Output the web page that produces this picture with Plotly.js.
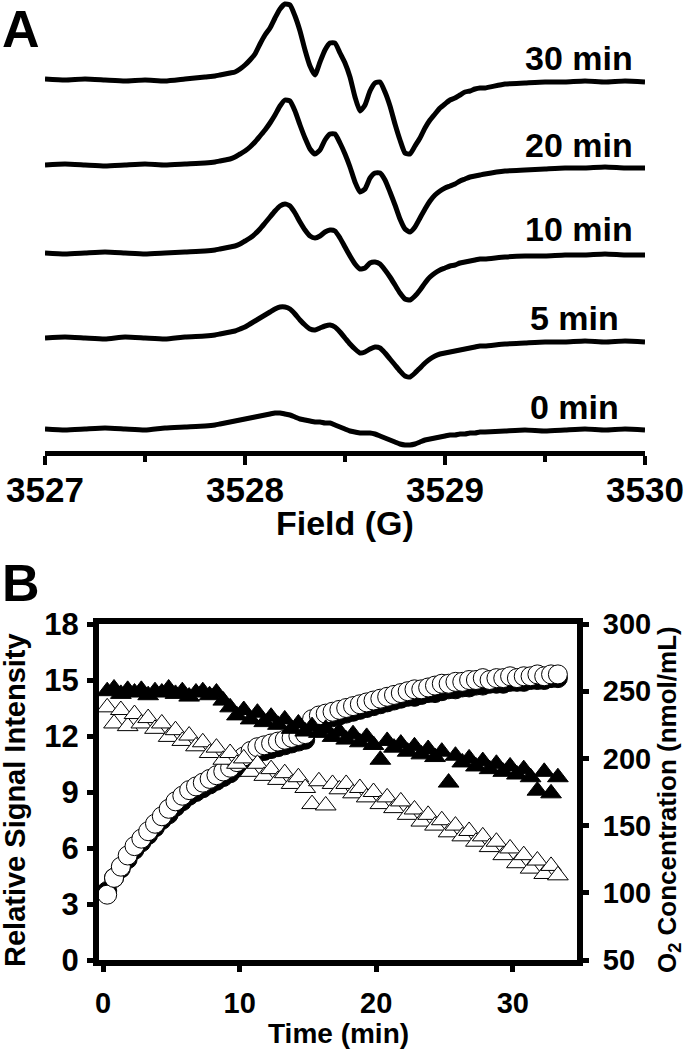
<!DOCTYPE html>
<html>
<head>
<meta charset="utf-8">
<script src="https://cdn.plot.ly/plotly-3.0.1.min.js"></script>
<style>
    html, body { margin: 0; padding: 0; background: #fff; }
    #chart { width: 686px; height: 1050px; }
</style>
</head>
<body>
<div id="chart"></div>
<script>
// Panel A: EPR spectra (field in G, intensity relative to each baseline)
var field = [3527.0, 3527.1, 3527.2, 3527.3, 3527.4, 3527.5, 3527.6, 3527.7, 3527.8,
    3527.85, 3527.875, 3527.9, 3527.925, 3527.95, 3527.975,
    3528.0, 3528.025, 3528.05, 3528.075, 3528.1, 3528.125, 3528.15, 3528.175,
    3528.2, 3528.225, 3528.25, 3528.275, 3528.3, 3528.325, 3528.35, 3528.375,
    3528.4, 3528.425, 3528.45, 3528.475, 3528.5, 3528.525, 3528.55, 3528.575,
    3528.6, 3528.625, 3528.65, 3528.675, 3528.7, 3528.725, 3528.75, 3528.775,
    3528.8, 3528.825, 3528.85, 3528.875, 3528.9, 3528.925, 3528.95, 3528.975,
    3529.0, 3529.025, 3529.05, 3529.075, 3529.1, 3529.125, 3529.15, 3529.175, 3529.2,
    3529.3, 3529.4, 3529.5, 3529.6, 3529.7, 3529.8, 3529.9, 3530.0];

var spec0 = [0, -1, 0, 1, 0, -1, 1, 2, 3,
    4, 5, 6, 7, 8, 9,
    10, 11, 12, 13, 14, 15, 16, 16,
    15, 14, 12, 10, 9, 8, 7, 7,
    6, 6, 4, 2, 0, -2, -3, -4,
    -4, -4, -5, -7, -9, -11, -13, -15,
    -16, -16, -15, -13, -11, -10, -9, -8,
    -7, -6, -6, -5, -5, -4, -4, -3, -3,
    -2, -1, -2, -1, 0, -1, 0, -1];

var spec5 = [0, 1, 0, -1, 1, 0, -1, 1, 2,
    3, 4, 5, 6, 7, 9,
    11, 14, 17, 20, 23, 26, 29, 31,
    31, 29, 24, 18, 13, 9, 8, 10,
    12, 13, 11, 6, 0, -6, -11, -15,
    -14, -11, -9, -10, -15, -21, -27, -33,
    -38, -39, -35, -30, -25, -21, -18, -16,
    -15, -14, -13, -12, -11, -10, -9, -8, -8,
    -6, -5, -4, -4, -3, -4, -3, -4];

var spec10 = [0, -1, 0, 1, 0, -1, 0, 1, 2,
    3, 4, 5, 6, 7, 9,
    12, 15, 19, 24, 30, 36, 42, 47,
    49, 47, 40, 31, 23, 17, 15, 17,
    21, 23, 22, 15, 6, -3, -11, -16,
    -15, -10, -9, -11, -17, -24, -32, -40,
    -46, -47, -43, -37, -30, -24, -20, -17,
    -15, -13, -12, -10, -9, -8, -7, -6, -6,
    -4, -3, -3, -2, -2, -1, -2, -2];

var spec20 = [0, 1, 0, -1, 0, 1, 0, 1, 2,
    3, 4, 5, 6, 8, 11,
    14, 18, 23, 29, 35, 42, 50, 59,
    65, 64, 54, 40, 27, 16, 11, 15,
    25, 31, 31, 22, 11, -2, -17, -27,
    -24, -13, -8, -8, -15, -27, -40, -54,
    -64, -67, -62, -53, -44, -36, -30, -26,
    -23, -21, -19, -16, -14, -12, -11, -10, -9,
    -6, -5, -4, -3, -3, -2, -3, -3];

var spec30 = [1, 0, 1, 0, -1, 0, -1, 1, 3,
    4, 5, 6, 7, 8, 11,
    15, 20, 26, 36, 45, 52, 62, 71,
    76, 75, 64, 49, 30, 14, 5, 18,
    30, 37, 37, 27, 17, 3, -17, -31,
    -25, -11, -3, -2, -12, -26, -44, -60,
    -73, -74, -66, -58, -48, -40, -34, -28,
    -24, -20, -18, -15, -12, -11, -9, -8, -8,
    -4, -3, -2, -2, -1, -2, -1, -2];

var specLabels = ['0 min', '5 min', '10 min', '20 min', '30 min'];

// Panel B: time course
var time = [0.3, 0.8, 1.3, 1.8, 2.3, 2.8, 3.3, 3.8, 4.3, 4.8,
    5.3, 5.8, 6.3, 6.8, 7.3, 7.8, 8.3, 8.8, 9.3, 9.8,
    10.3, 10.8, 11.3, 11.8, 12.3, 12.8, 13.3, 13.8, 14.3, 14.8,
    15.3, 15.8, 16.3, 16.8, 17.3, 17.8, 18.3, 18.8, 19.3, 19.8,
    20.3, 20.8, 21.3, 21.8, 22.3, 22.8, 23.3, 23.8, 24.3, 24.8,
    25.3, 25.8, 26.3, 26.8, 27.3, 27.8, 28.3, 28.8, 29.3, 29.8,
    30.3, 30.8, 31.3, 31.8, 32.3, 32.8, 33.3];

// relative signal intensity (left axis)
var signalFilled = [3.7, 4.4, 4.9, 5.4, 5.9, 6.3, 6.7, 7.1, 7.5, 7.8,
    8.2, 8.5, 8.8, 9.0, 9.2, 9.4, 9.6, 9.8, 10.0, 10.3,
    10.6, 10.9, 11.1, 11.2, 11.3, 11.4, 11.5, 11.6, 11.7, 11.8,
    12.6, 12.8, 12.9, 13.0, 13.1, 13.2, 13.3, 13.4, 13.5, 13.6,
    13.7, 13.8, 13.9, 14.0, 14.1, 14.1, 14.2, 14.3, 14.3, 14.4,
    14.5, 14.5, 14.6, 14.6, 14.7, 14.7, 14.8, 14.8, 14.8, 14.9,
    14.9, 14.9, 15.0, 15.0, 15.0, 15.1, 15.1];

var signalOpen = [3.5, 4.4, 5.0, 5.6, 6.1, 6.5, 6.9, 7.3, 7.7, 8.1,
    8.5, 8.8, 9.1, 9.3, 9.5, 9.7, 9.9, 10.1, 10.3, 10.6,
    10.9, 11.2, 11.4, 11.5, 11.6, 11.7, 11.8, 11.9, 12.0, 12.1,
    12.9, 13.1, 13.2, 13.3, 13.4, 13.5, 13.6, 13.7, 13.8, 13.9,
    14.0, 14.1, 14.2, 14.3, 14.4, 14.5, 14.5, 14.6, 14.7, 14.8,
    14.8, 14.9, 14.9, 15.0, 15.0, 15.1, 15.0, 15.1, 15.1, 15.2,
    15.1, 15.2, 15.2, 15.3, 15.2, 15.3, 15.3];

// O2 concentration, nmol/mL (right axis)
var o2Filled = [250, 252, 248, 251, 249, 251, 247, 250, 249, 252,
    248, 250, 246, 249, 250, 247, 249, 243, 238, 232,
    236, 229, 234, 227, 231, 225, 229, 222, 226, 220,
    224, 219, 222, 216, 220, 214, 218, 212, 216, 210,
    199, 213, 208, 211, 205, 209, 203, 207, 201, 205,
    182, 202, 197, 200, 194, 198, 192, 196, 190, 194,
    188, 192, 186, 176, 190, 174, 186];

var o2Open = [238, 226, 236, 224, 233, 226, 230, 222, 226, 216,
    221, 213, 217, 209, 212, 204, 208, 199, 204, 196,
    200, 190, 196, 187, 192, 184, 189, 181, 186, 178,
    166, 183, 165, 181, 177, 181, 174, 178, 171, 175,
    166, 171, 163, 168, 158, 162, 153, 158, 150, 154,
    145, 150, 142, 146, 138, 142, 134, 138, 128, 133,
    122, 128, 118, 124, 114, 120, 113];

var FONT = 'Liberation Sans, Arial, Helvetica, sans-serif';

drawChart();

function drawChart() {
    var spectra = [spec0, spec5, spec10, spec20, spec30];
    // vertical stacking of the spectra in panel A
    var stack = [0, 91, 176, 264, 349];
    var labelPos = [[3529.88, 22], [3529.88, 111], [3529.95, 200], [3529.95, 284], [3529.95, 371]];

    var data = [];
    var annotations = [];

    for (var i = 0; i < spectra.length; i++) {
        var ys = [];
        for (var j = 0; j < spectra[i].length; j++) {
            ys.push(spectra[i][j] + stack[i]);
        }
        data.push({
            x: field,
            y: ys,
            xaxis: 'x',
            yaxis: 'y',
            mode: 'lines',
            line: {color: '#000', width: 5, shape: 'spline', smoothing: 0.5},
            hoverinfo: 'skip'
        });
        annotations.push({
            xref: 'x', yref: 'y',
            x: labelPos[i][0], y: labelPos[i][1],
            xanchor: 'right', yanchor: 'middle',
            text: specLabels[i],
            showarrow: false,
            font: {family: FONT, size: 34, color: '#000', weight: 700}
        });
    }

    data.push(markerTrace(signalFilled, 'y2', 'circle', 19, '#000'));
    data.push(markerTrace(signalOpen, 'y2', 'circle', 19, '#fff'));
    data.push(markerTrace(o2Filled, 'y3', 'triangle-up', 18, '#000'));
    data.push(markerTrace(o2Open, 'y3', 'triangle-up', 18, '#fff'));

    // panel letters and axis titles
    annotations.push(paperText('A', 0, 29, 'left', 52, 0));
    annotations.push(paperText('B', 0, 583, 'left', 52, 0));
    annotations.push(paperText('Field (G)', 345 / 686, 523, 'center', 34, 0));
    annotations.push(paperText('Time (min)', 338 / 686, 1033, 'center', 28, 0));
    annotations.push(paperText('Relative Signal Intensity', 15 / 686, 800, 'center', 29, -90));
    annotations.push(paperText('O<sub>2</sub> Concentration (nmol/mL)', 668 / 686, 800, 'center', 26, -90));

    var plotB = [1 - 960 / 1050, 1 - 624 / 1050];

    var layout = {
        width: 686,
        height: 1050,
        margin: {l: 0, r: 0, t: 0, b: 0},
        paper_bgcolor: '#fff',
        plot_bgcolor: '#fff',
        showlegend: false,
        font: {family: FONT, color: '#000', weight: 700},
        xaxis: {
            domain: [45 / 686, 645 / 686],
            range: [3527, 3530],
            anchor: 'y',
            tickvals: [3527, 3528, 3529, 3530],
            ticks: 'outside', ticklen: 9, tickwidth: 4, tickcolor: '#000',
            minor: {tickvals: [3527.5, 3528.5, 3529.5], ticks: 'outside', ticklen: 6, tickwidth: 4, tickcolor: '#000', showgrid: false},
            showline: true, linewidth: 5, linecolor: '#000',
            showgrid: false, zeroline: false,
            tickfont: {family: FONT, size: 35, weight: 700},
            ticklabelstandoff: -5
        },
        yaxis: {
            domain: [1 - 451 / 1050, 1],
            range: [-22, 429],
            anchor: 'x',
            visible: false
        },
        xaxis2: {
            domain: [99 / 686, 577 / 686],
            range: [-0.3, 34.7],
            anchor: 'y2',
            tickvals: [0, 10, 20, 30],
            ticks: 'outside', ticklen: 6, tickwidth: 5, tickcolor: '#000',
            showline: true, mirror: true, linewidth: 6, linecolor: '#000',
            showgrid: false, zeroline: false,
            tickfont: {family: FONT, size: 29, weight: 700},
            ticklabelstandoff: 6
        },
        yaxis2: {
            domain: plotB,
            range: [0, 18],
            anchor: 'x2',
            tickvals: [0, 3, 6, 9, 12, 15, 18],
            ticks: 'outside', ticklen: 6, tickwidth: 5, tickcolor: '#000',
            showline: true, linewidth: 6, linecolor: '#000',
            showgrid: false, zeroline: false,
            tickfont: {family: FONT, size: 31, weight: 700},
            ticklabelstandoff: 2
        },
        yaxis3: {
            domain: plotB,
            range: [50, 300],
            anchor: 'x2',
            overlaying: 'y2',
            side: 'right',
            tickvals: [50, 100, 150, 200, 250, 300],
            ticks: 'outside', ticklen: 6, tickwidth: 5, tickcolor: '#000',
            showline: true, linewidth: 6, linecolor: '#000',
            showgrid: false, zeroline: false,
            tickfont: {family: FONT, size: 29, weight: 700},
            ticklabelstandoff: 8
        },
        annotations: annotations
    };

    Plotly.newPlot('chart', data, layout, {staticPlot: true});
}

function paperText(text, x, yPx, anchor, size, angle) {
    return {
        xref: 'paper', yref: 'paper',
        x: x, y: 1 - yPx / 1050,
        xanchor: anchor, yanchor: 'middle',
        text: text, showarrow: false, textangle: angle,
        font: {family: FONT, size: size, color: '#000', weight: 700}
    };
}

function markerTrace(values, yaxis, symbol, size, fill) {
    return {
        x: time,
        y: values,
        xaxis: 'x2',
        yaxis: yaxis,
        mode: 'markers',
        marker: {symbol: symbol, size: size, color: fill, line: {color: '#000', width: 1}},
        hoverinfo: 'skip'
    };
}
</script>
</body>
</html>
